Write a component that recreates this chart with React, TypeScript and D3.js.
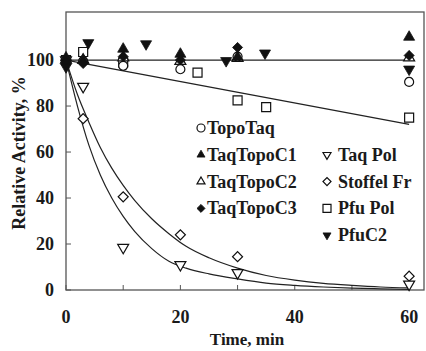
import React, { useEffect, useRef } from 'react';
import * as d3 from 'd3';

// measured points, [time (min), relative activity %]
const topoTaq: [number, number][] = [[0, 100], [3, 99.5], [10, 97.5], [20, 96], [30, 101.5], [60, 90.5]];
const taqTopoC1: [number, number][] = [[0, 101], [3, 100], [10, 104.8], [20, 102.6], [30, 101.3], [60, 110]];
const taqTopoC2: [number, number][] = [[0, 100], [3, 100], [10, 101], [20, 99.5], [30, 100.8], [60, 101]];
const taqTopoC3: [number, number][] = [[0, 99], [3, 98.5], [10, 101.5], [20, 100], [30, 105.5], [60, 102]];
const taqPol: [number, number][] = [[0, 100], [3, 88.5], [10, 18.5], [20, 11], [30, 7.5], [60, 2.5]];
const stoffelFr: [number, number][] = [[0, 100], [3, 74.5], [10, 40.5], [20, 24], [30, 14.5], [60, 6]];
const pfuPol: [number, number][] = [[0, 100], [3, 103.5], [10, 99], [23, 94.5], [30, 82.5], [35, 79.5], [60, 75]];
const pfuC2: [number, number][] = [[0, 97], [3.9, 107.5], [14, 107], [28, 99.7], [34.8, 103], [60, 96]];

// fitted lines
const flatFit: [number, number][] = [[0, 100], [60, 100]];
const pfuFit: [number, number][] = [[0, 100], [60, 72]];
const stoffelFit: [number, number][] = [
  [0, 100], [2, 85], [4, 73], [6, 62], [8, 53], [10, 45.5], [12, 39], [15, 31], [18, 24.5],
  [21, 19], [25, 14], [30, 9.5], [35, 6.3], [40, 4.3], [45, 2.9], [50, 2], [55, 1.3], [60, 0.9],
];
const taqFit: [number, number][] = [
  [0, 100], [2, 80], [4, 63], [6, 50], [8, 40], [10, 32], [12, 25.5], [15, 18], [18, 12.5],
  [21, 9.5], [25, 7], [30, 4.8], [35, 3], [40, 2], [45, 1.3], [50, 0.8], [55, 0.5], [60, 0.3],
];

const xTicks = [0, 10, 20, 30, 40, 50, 60];
const xLabels = [0, 20, 40, 60];
const yTicks = [0, 20, 40, 60, 80, 100];

const legendLeft = ['TopoTaq', 'TaqTopoC1', 'TaqTopoC2', 'TaqTopoC3'];
const legendRight = ['Taq Pol', 'Stoffel Fr', 'Pfu Pol', 'PfuC2'];

type Shape = 'circle' | 'triUp' | 'triDown' | 'diamond' | 'square';

const App: React.FC = () => {
  const svgRef = useRef<SVGSVGElement | null>(null);

  useEffect(() => {
    const svg = d3.select(svgRef.current);
    svg.selectAll('*').remove();

    const width = 426;
    const height = 351;
    const font = '"Liberation Serif", "Times New Roman", serif';
    const ink = '#1a1a1a';

    const x = d3.scaleLinear().domain([0, 62.6]).range([66, 424]);
    const y = d3.scaleLinear().domain([0, 120.9]).range([290, 12]);

    svg.append('rect').attr('width', width).attr('height', height).attr('fill', '#fff');

    // frame
    svg.append('rect')
      .attr('x', x(0)).attr('y', y(120.9))
      .attr('width', x(62.6) - x(0)).attr('height', y(0) - y(120.9))
      .attr('fill', 'none').attr('stroke', '#555').attr('stroke-width', 1.3);

    svg.selectAll('.xt').data(xTicks).enter().append('line')
      .attr('x1', (d) => x(d)).attr('x2', (d) => x(d))
      .attr('y1', y(0)).attr('y2', y(0) - 5)
      .attr('stroke', '#555');
    svg.selectAll('.yt').data(yTicks).enter().append('line')
      .attr('x1', x(0)).attr('x2', x(0) + 5)
      .attr('y1', (d) => y(d)).attr('y2', (d) => y(d))
      .attr('stroke', '#555');

    svg.selectAll('.xl').data(xLabels).enter().append('text')
      .attr('x', (d) => x(d)).attr('y', 323)
      .attr('text-anchor', 'middle')
      .attr('font-family', font).attr('font-weight', 700).attr('font-size', 18)
      .attr('fill', ink).text((d) => d);
    svg.selectAll('.yl').data(yTicks).enter().append('text')
      .attr('x', 54).attr('y', (d) => y(d) + 6)
      .attr('text-anchor', 'end')
      .attr('font-family', font).attr('font-weight', 700).attr('font-size', 18)
      .attr('fill', ink).text((d) => d);

    svg.append('text')
      .attr('x', 247).attr('y', 345)
      .attr('text-anchor', 'middle')
      .attr('font-family', font).attr('font-weight', 700).attr('font-size', 17)
      .attr('fill', ink).text('Time, min');
    svg.append('text')
      .attr('transform', 'translate(25,153) rotate(-90)')
      .attr('text-anchor', 'middle')
      .attr('font-family', font).attr('font-weight', 700).attr('font-size', 18)
      .attr('fill', ink).text('Relative Activity, %');

    // fit lines
    const line = d3.line<[number, number]>()
      .x((d) => x(d[0]))
      .y((d) => y(d[1]))
      .curve(d3.curveMonotoneX);
    [flatFit, pfuFit, stoffelFit, taqFit].forEach((fit) => {
      svg.append('path')
        .datum(fit)
        .attr('fill', 'none')
        .attr('stroke', '#222')
        .attr('stroke-width', 1.2)
        .attr('d', line as any);
    });

    const drawMarker = (g: any, shape: Shape, cx: number, cy: number, s: number, filled: boolean) => {
      let el;
      if (shape === 'circle') {
        el = g.append('path').attr('d', d3.symbol().type(d3.symbolCircle).size(s * s * 0.785)());
      } else if (shape === 'square') {
        el = g.append('path').attr('d', d3.symbol().type(d3.symbolSquare).size(s * s)());
      } else if (shape === 'diamond') {
        el = g.append('path').attr('d', d3.symbol().type(d3.symbolSquare).size(s * s * 0.5)())
          .attr('transform', `translate(${cx},${cy}) rotate(45)`);
      } else {
        el = g.append('path').attr('d', d3.symbol().type(d3.symbolTriangle).size(s * s * 0.433)())
          .attr('transform', `translate(${cx},${cy})${shape === 'triDown' ? ' rotate(180)' : ''}`);
      }
      if (shape === 'circle' || shape === 'square') el.attr('transform', `translate(${cx},${cy})`);
      el.attr('fill', filled ? '#111' : '#fff')
        .attr('stroke', '#111')
        .attr('stroke-width', filled ? 0.8 : 1.2);
    };

    const seriesList: { data: [number, number][]; shape: Shape; filled: boolean; size: number }[] = [
      { data: pfuPol, shape: 'square', filled: false, size: 9 },
      { data: stoffelFr, shape: 'diamond', filled: false, size: 10 },
      { data: taqPol, shape: 'triDown', filled: false, size: 11 },
      { data: taqTopoC2, shape: 'triUp', filled: false, size: 11 },
      { data: topoTaq, shape: 'circle', filled: false, size: 9 },
      { data: taqTopoC1, shape: 'triUp', filled: true, size: 11 },
      { data: taqTopoC3, shape: 'diamond', filled: true, size: 10 },
      { data: pfuC2, shape: 'triDown', filled: true, size: 11 },
    ];
    const marks = svg.append('g');
    seriesList.forEach((s) => {
      s.data.forEach((d) => drawMarker(marks, s.shape, x(d[0]), y(d[1]), s.size, s.filled));
    });

    // legend
    const leftShapes: [Shape, boolean][] = [['circle', false], ['triUp', true], ['triUp', false], ['diamond', true]];
    const rightShapes: [Shape, boolean][] = [['triDown', false], ['diamond', false], ['square', false], ['triDown', true]];
    const rowY = (i: number) => 128 + i * 26.8;
    const leg = svg.append('g');
    legendLeft.forEach((name, i) => {
      drawMarker(leg, leftShapes[i][0], 201, rowY(i), 8, leftShapes[i][1]);
      leg.append('text')
        .attr('x', 207).attr('y', rowY(i) + 6)
        .attr('font-family', font).attr('font-weight', 700).attr('font-size', 18)
        .attr('fill', ink).text(name);
    });
    legendRight.forEach((name, i) => {
      const row = i + 1;
      drawMarker(leg, rightShapes[i][0], 327, rowY(row), 8, rightShapes[i][1]);
      leg.append('text')
        .attr('x', 338).attr('y', rowY(row) + 6)
        .attr('font-family', font).attr('font-weight', 700).attr('font-size', 18)
        .attr('fill', ink).text(name);
    });
  }, []);

  return (
    <svg
      ref={svgRef}
      width={426}
      height={351}
      style={{ position: 'absolute', left: 0, top: 0 }}
    ></svg>
  );
};

export default App;
